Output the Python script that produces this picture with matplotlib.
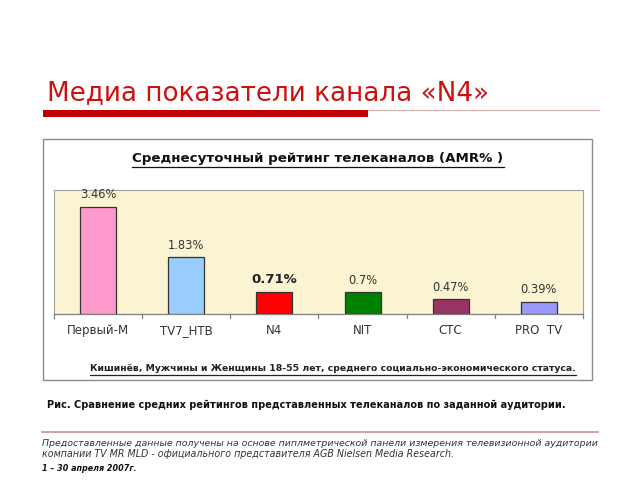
import matplotlib
matplotlib.use("Agg")
import matplotlib.pyplot as plt
from matplotlib.patches import Rectangle
from matplotlib.lines import Line2D

categories = ["Первый-М", "TV7_НТВ", "N4", "NIT", "СТС", "PRO  TV"]
values = [3.46, 1.83, 0.71, 0.70, 0.47, 0.39]
value_labels = ["3.46%", "1.83%", "0.71%", "0.7%", "0.47%", "0.39%"]
bar_colors = ["#FF99CC", "#99CCFF", "#FF0000", "#008000", "#993366", "#9999FF"]

W, H = 640, 480
fig = plt.figure(figsize=(6.4, 4.8), dpi=100)
fig.patch.set_facecolor("white")

def fx(x):
    return x / W

def fy(y):
    return 1 - y / H

renderer = fig.canvas.get_renderer()

def fit_text(x, y, s, target_w, size, ha="left", underline=False, **kw):
    t = fig.text(fx(x), fy(y), s, ha=ha, va="baseline", fontsize=size, **kw)
    bb = t.get_window_extent(renderer)
    t.set_fontsize(size * target_w / bb.width)
    if underline:
        bb = t.get_window_extent(renderer)
        yl = bb.y0 - 1.5
        fig.add_artist(Line2D([bb.x0 / W, bb.x1 / W], [yl / H, yl / H],
                              color=kw.get("color", "black"), lw=0.9,
                              transform=fig.transFigure))
    return t

# Title
fit_text(47, 100, "Медиа показатели канала «N4»", 441, 19, color="#CC1111")
# Red thick bar + thin line
fig.add_artist(Rectangle((fx(43), fy(117)), fx(368 - 43), 7 / H,
                         transform=fig.transFigure, color="#C00000", lw=0))
fig.add_artist(Line2D([fx(368), fx(599)], [fy(109.5), fy(109.5)],
                      color="#D8B0B0", lw=0.9, transform=fig.transFigure))

# Chart box
fig.add_artist(Rectangle((fx(42.5), fy(380)), fx(592 - 42.5), (380 - 139) / H,
                         transform=fig.transFigure, facecolor="white",
                         edgecolor="#8C8C8C", lw=1.0, zorder=0))

# Chart title
fit_text(318, 162, "Среднесуточный рейтинг телеканалов (AMR% )", 369, 10,
         ha="center", underline=True, fontweight="bold", color="#111111")

# Plot area
ax = fig.add_axes([fx(54), fy(314), fx(583 - 54), (314 - 190) / H])
ax.set_facecolor("#FAF4D2")
x = list(range(len(categories)))
ax.bar(x, values, width=0.41, color=bar_colors, edgecolor="#333333", lw=0.9, zorder=3)
ax.set_xlim(-0.5, len(categories) - 0.5)
ax.set_ylim(0, 4)
ax.set_yticks([])
ax.set_xticks(x)
ax.set_xticklabels(categories, fontsize=8.5, color="#333333")
ax.tick_params(axis="x", length=0, pad=7)
for sp in ["top", "right", "left"]:
    ax.spines[sp].set_color("#A0A0A0")
    ax.spines[sp].set_linewidth(0.8)
ax.spines["bottom"].set_color("#808080")
ax.spines["bottom"].set_linewidth(0.9)
# boundary tick marks
for b in [i - 0.5 for i in range(len(categories) + 1)]:
    ax.plot([b, b], [0, -0.13], color="#808080", lw=0.9, clip_on=False, zorder=4)

for i, (v, lab) in enumerate(zip(values, value_labels)):
    bold = categories[i] == "N4"
    ax.annotate(lab, (i, v), xytext=(0, 4), textcoords="offset points",
                ha="center", va="bottom",
                fontsize=9.5 if bold else 8.3,
                fontweight="bold" if bold else "normal",
                color="#222222" if bold else "#333333")

# Subtitle inside box
fit_text(333, 371, "Кишинёв, Мужчины и Женщины 18-55 лет, среднего социально-экономического статуса.",
         488, 7, ha="center", underline=True, fontweight="bold", color="#222222")

# Caption
fit_text(47, 408, "Рис. Сравнение средних рейтингов представленных телеканалов по заданной аудитории.",
         516, 7.5, fontweight="bold", color="#111111")

# Separator line
fig.add_artist(Line2D([fx(42), fx(598)], [fy(432), fy(432)],
                      color="#C89494", lw=1.2, transform=fig.transFigure))

# Footer
fit_text(42, 446, "Предоставленные данные получены на основе пиплметрической панели измерения телевизионной аудитории",
         558, 7, style="italic", color="#333333")
fit_text(42, 457, "компании TV MR MLD - официального представителя AGB Nielsen Media Research.",
         414, 7, style="italic", color="#333333")
fit_text(42, 471, "1 – 30 апреля 2007г.", 95, 7, style="italic", fontweight="bold", color="#111111")

fig.savefig("out.png", dpi=100)
